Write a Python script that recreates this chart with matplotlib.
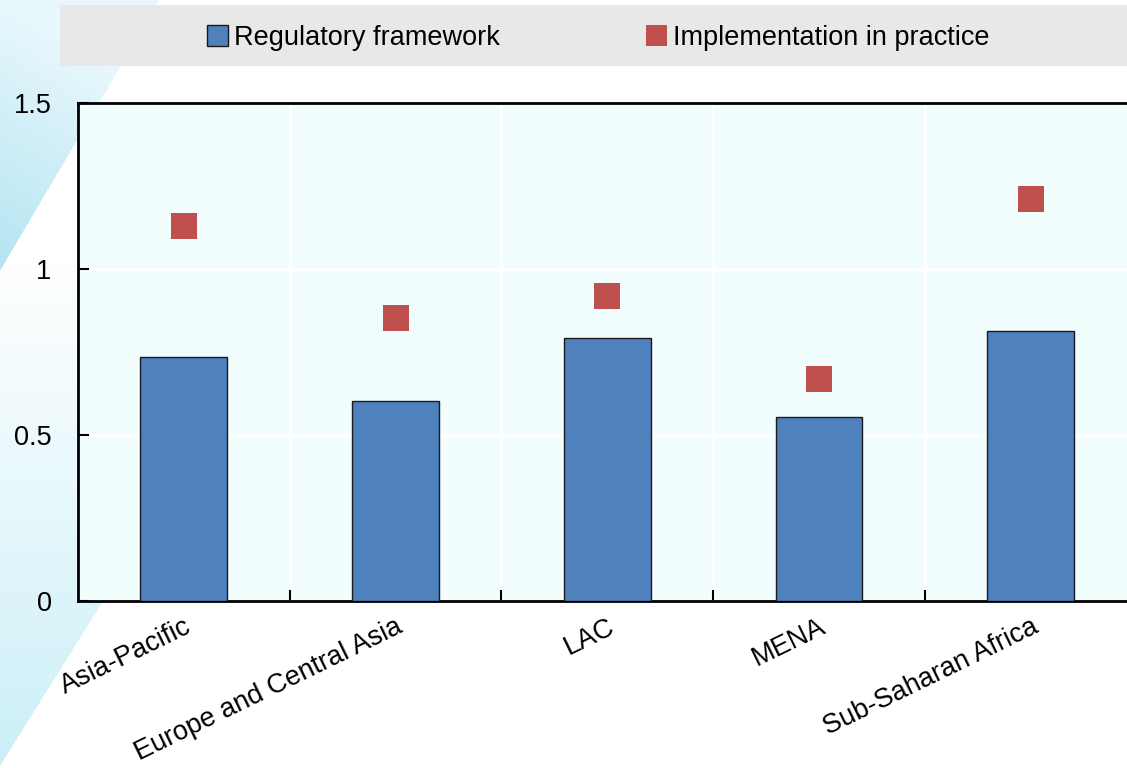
import numpy as np
import matplotlib
matplotlib.use('Agg')
import matplotlib.pyplot as plt
from matplotlib.patches import Patch, Rectangle

regions = ['Asia-Pacific', 'Europe and Central Asia', 'LAC', 'MENA', 'Sub-Saharan Africa']
regulatory = [0.735, 0.602, 0.792, 0.554, 0.813]
implementation = [1.129, 0.852, 0.919, 0.669, 1.211]

bar_color = '#4f81bd'
dot_color = '#c0504d'

plt.rcParams['font.family'] = ['Liberation Sans', 'DejaVu Sans']
plt.rcParams['font.size'] = 19.5

W, H = 1127, 768
fig = plt.figure(figsize=(W / 100, H / 100), dpi=100)

# background: light blue diagonal shapes on the left
yy, xx = np.mgrid[0:H, 0:W].astype(float)
img = np.ones((H, W, 3))
light = np.array([0.91, 0.97, 0.99])
dark = np.array([0.71, 0.90, 0.95])
band_col = np.array([0.80, 0.94, 0.97])
tri = xx < 159 - 0.59 * yy
band = (xx < 478 - 0.625 * yy) & ~tri
u = np.clip((yy - 0.6 * xx) / 260, 0, 1)[..., None]
v = np.clip((yy - 260) / 500, 0, 1)[..., None]
tri_img = light + u * (dark - light)
band_img = 1 + v * (band_col - 1)
img = np.where(tri[..., None], tri_img, img)
img = np.where(band[..., None], band_img, img)
bg = fig.add_axes([0, 0, 1, 1], zorder=0)
bg.imshow(img, aspect='auto', extent=(0, 1, 0, 1), interpolation='bilinear')
bg.set_axis_off()

# legend strip
fig.patches.append(Rectangle((60 / W, 1 - 66 / H), 1.0, 61 / H, transform=fig.transFigure,
                             facecolor='#e8e8e8', edgecolor='none', zorder=1))

ax = fig.add_axes([78 / W, 1 - 601 / H, 1058.5 / W, 498 / H], zorder=2)
ax.set_facecolor('#f2fefe')
x = np.arange(len(regions))
ax.bar(x, regulatory, width=0.41, color=bar_color, edgecolor='#1a1a1a', linewidth=1, zorder=3)
ax.plot(x, implementation, 's', color=dot_color, markersize=19.4, markeredgewidth=0, zorder=4)

ax.set_xlim(-0.5, 4.5)
ax.set_ylim(0, 1.5)
ax.set_yticks([0, 0.5, 1, 1.5], ['0', '0.5', '1', '1.5'])
ax.set_xticks(x, regions, rotation=26, ha='right', va='top', rotation_mode='anchor')
ax.set_xticks(x[:-1] + 0.5, minor=True)
ax.tick_params(axis='x', which='major', length=0, pad=9)
ax.tick_params(axis='x', which='minor', direction='in', length=8, width=1.5)
ax.tick_params(axis='y', direction='in', length=8, width=1.5, pad=19)
ax.grid(axis='y', which='major', color='white', linewidth=2, zorder=1)
ax.grid(axis='x', which='minor', color='white', linewidth=2, zorder=1)
ax.set_axisbelow(True)
for side in ['left', 'bottom', 'top', 'right']:
    ax.spines[side].set_linewidth(2)
    ax.spines[side].set_color('black')

handles = [Patch(facecolor=bar_color, edgecolor='#1a1a1a', linewidth=1),
           Patch(facecolor=dot_color, edgecolor='none')]
leg = fig.legend(handles, ['Regulatory framework', 'Implementation in practice'],
                 loc='center', bbox_to_anchor=(598 / W, 1 - 38 / H), ncol=2, frameon=False,
                 handlelength=0.8, handleheight=0.8, handletextpad=0.2, columnspacing=5.4)
leg.set_zorder(3)

fig.savefig('out.png', dpi=100)
